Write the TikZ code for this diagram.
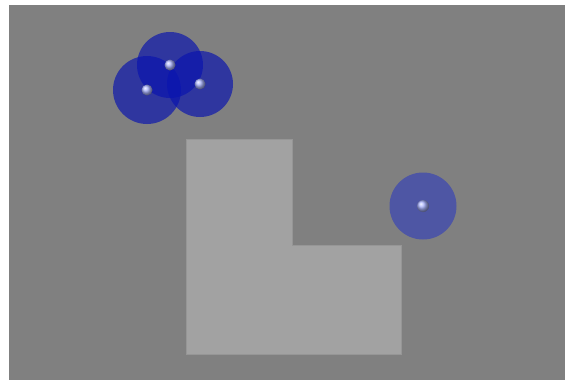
\documentclass[tikz,border=0pt]{standalone}
\begin{document}
\begin{tikzpicture}[x=1pt,y=-1pt,
  bg/.style={fill={rgb,255:red,128;green,128;blue,128}},
  lshape/.style={fill={rgb,255:red,162;green,162;blue,162},draw={rgb,255:red,150;green,150;blue,150},line width=1pt},
  darkzone/.style={fill={rgb,255:red,10;green,20;blue,175},fill opacity=0.68},
  lightzone/.style={fill={rgb,255:red,30;green,45;blue,200},fill opacity=0.5},
  agent/.style={shading=ball,ball color={rgb,255:red,170;green,180;blue,255}}]
\useasboundingbox (0,0) rectangle (565,380);
\fill[white] (0,0) rectangle (565,380);
\fill[bg] (9,5) rectangle (565,380);
\draw[lshape] (186,139) -- (292,139) -- (292,245) -- (401,245) -- (401,354) -- (186,354) -- cycle;
\fill[darkzone] (147,90) circle (34);
\fill[darkzone] (170,65) circle (33);
\fill[darkzone] (200,84) circle (33);
\fill[lightzone] (423,206) circle (33.5);
\shade[agent] (147,90) circle (5.5);
\shade[agent] (170,65) circle (5.5);
\shade[agent] (200,84) circle (5.5);
\shade[agent] (423,206) circle (6);
\end{tikzpicture}
\end{document}
